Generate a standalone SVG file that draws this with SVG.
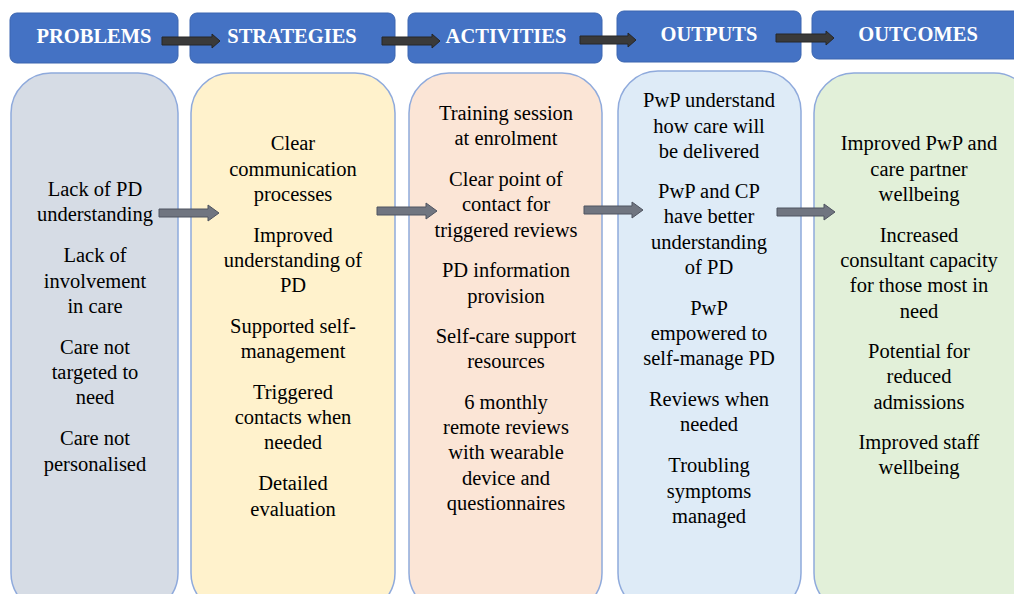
<svg xmlns="http://www.w3.org/2000/svg" width="1014" height="594" viewBox="0 0 1014 594">
<defs>
<style>
.hdr{fill:#4472C4;stroke:#3A65B0;stroke-width:1}
.col{stroke:#8FAADC;stroke-width:1.5}
.ht{font-family:'Liberation Serif','Times New Roman',serif;font-weight:bold;font-size:20.5px;fill:#fff;text-anchor:middle}
.t{font-family:'Liberation Serif','Times New Roman',serif;font-size:20.5px;fill:#000;text-anchor:middle}
.ha{fill:#3A3A3A;stroke:#262626;stroke-width:1}
.ca{fill:#707580;stroke:#4F5460;stroke-width:1}
</style>
</defs>
<rect width="1014" height="594" fill="#fff"/>
<g id="problems">
<rect class="hdr" x="10" y="13" width="168" height="50" rx="7"/>
<text class="ht" x="94" y="43">PROBLEMS</text>
<rect class="col" x="11" y="73" width="167" height="540" rx="40" fill="#D6DCE5"/>
<text class="t" x="95"><tspan x="95" y="196">Lack of PD</tspan><tspan x="95" y="221">understanding</tspan><tspan x="95" y="262">Lack of</tspan><tspan x="95" y="288">involvement</tspan><tspan x="95" y="313">in care</tspan><tspan x="95" y="354">Care not</tspan><tspan x="95" y="379">targeted to</tspan><tspan x="95" y="404">need</tspan><tspan x="95" y="445">Care not</tspan><tspan x="95" y="471">personalised</tspan></text>
</g>
<g id="strategies">
<rect class="hdr" x="190" y="13" width="205" height="50" rx="7"/>
<text class="ht" x="292" y="43">STRATEGIES</text>
<rect class="col" x="191" y="73" width="204" height="540" rx="40" fill="#FFF2CC"/>
<text class="t"><tspan x="293" y="150">Clear</tspan><tspan x="293" y="176">communication</tspan><tspan x="293" y="201">processes</tspan><tspan x="293" y="242">Improved</tspan><tspan x="293" y="267">understanding of</tspan><tspan x="293" y="292">PD</tspan><tspan x="293" y="333">Supported self-</tspan><tspan x="293" y="358">management</tspan><tspan x="293" y="399">Triggered</tspan><tspan x="293" y="424">contacts when</tspan><tspan x="293" y="449">needed</tspan><tspan x="293" y="490">Detailed</tspan><tspan x="293" y="516">evaluation</tspan></text>
</g>
<g id="activities">
<rect class="hdr" x="408" y="13" width="194" height="50" rx="7"/>
<text class="ht" x="506" y="43">ACTIVITIES</text>
<rect class="col" x="409" y="73" width="193" height="540" rx="40" fill="#FBE5D6"/>
<text class="t"><tspan x="506" y="120">Training session</tspan><tspan x="506" y="145">at enrolment</tspan><tspan x="506" y="186">Clear point of</tspan><tspan x="506" y="211">contact for</tspan><tspan x="506" y="237">triggered reviews</tspan><tspan x="506" y="277">PD information</tspan><tspan x="506" y="303">provision</tspan><tspan x="506" y="343">Self-care support</tspan><tspan x="506" y="368">resources</tspan><tspan x="506" y="409">6 monthly</tspan><tspan x="506" y="434">remote reviews</tspan><tspan x="506" y="459">with wearable</tspan><tspan x="506" y="485">device and</tspan><tspan x="506" y="510">questionnaires</tspan></text>
</g>
<g id="outputs">
<rect class="hdr" x="617" y="11" width="184" height="51" rx="7"/>
<text class="ht" x="709" y="41">OUTPUTS</text>
<rect class="col" x="618" y="71" width="183" height="542" rx="40" fill="#DEEBF7"/>
<text class="t"><tspan x="709" y="107">PwP understand</tspan><tspan x="709" y="133">how care will</tspan><tspan x="709" y="158">be delivered</tspan><tspan x="709" y="198">PwP and CP</tspan><tspan x="709" y="223">have better</tspan><tspan x="709" y="249">understanding</tspan><tspan x="709" y="274">of PD</tspan><tspan x="709" y="315">PwP</tspan><tspan x="709" y="340">empowered to</tspan><tspan x="709" y="365">self-manage PD</tspan><tspan x="709" y="406">Reviews when</tspan><tspan x="709" y="431">needed</tspan><tspan x="709" y="472">Troubling</tspan><tspan x="709" y="498">symptoms</tspan><tspan x="709" y="523">managed</tspan></text>
</g>
<g id="outcomes">
<rect class="hdr" x="812" y="11" width="220" height="48" rx="7"/>
<text class="ht" x="918" y="41">OUTCOMES</text>
<rect class="col" x="814" y="73" width="220" height="540" rx="40" fill="#E2F0D9"/>
<text class="t"><tspan x="919" y="150">Improved PwP and</tspan><tspan x="919" y="176">care partner</tspan><tspan x="919" y="201">wellbeing</tspan><tspan x="919" y="242">Increased</tspan><tspan x="919" y="267">consultant capacity</tspan><tspan x="919" y="292">for those most in</tspan><tspan x="919" y="318">need</tspan><tspan x="919" y="358">Potential for</tspan><tspan x="919" y="383">reduced</tspan><tspan x="919" y="409">admissions</tspan><tspan x="919" y="449">Improved staff</tspan><tspan x="919" y="474">wellbeing</tspan></text>
</g>
<g id="connectors">
<path class="ha" d="M162,37 H212 V34 L220,41 L212,48 V45 H162 Z"/>
<path class="ha" d="M382,37 H432 V34 L440,41 L432,48 V45 H382 Z"/>
<path class="ha" d="M580,36 H628 V33 L636,40 L628,47 V44 H580 Z"/>
<path class="ha" d="M776,34 H826 V31 L834,38 L826,45 V42 H776 Z"/>
<path class="ca" d="M159,209 H208 V205 L219,213 L208,221 V217 H159 Z"/>
<path class="ca" d="M377,207 H426 V203 L437,211 L426,219 V215 H377 Z"/>
<path class="ca" d="M584,206 H632 V202 L643,210 L632,218 V214 H584 Z"/>
<path class="ca" d="M777,208 H824 V204 L835,212 L824,220 V216 H777 Z"/>
</g>
</svg>
